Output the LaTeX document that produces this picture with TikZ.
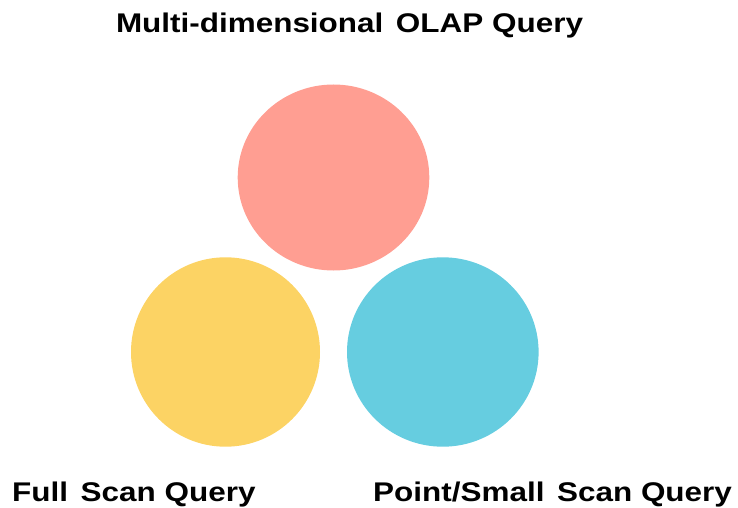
\documentclass[tikz,border=0pt]{standalone}
\usepackage{fontspec}
\setmainfont{Liberation Sans}
\usetikzlibrary{shapes.geometric}
\definecolor{salmon}{HTML}{FF9E92}
\definecolor{sun}{HTML}{FCD364}
\definecolor{sky}{HTML}{66CDE0}
\newcommand{\widegap}{\hspace{0.4em}}
\tikzset{
  blob/.style={ellipse, draw=none, inner sep=0pt},
  caption/.style={inner sep=0pt, xscale=1.165,
    font=\fontsize{27}{27}\selectfont\bfseries}
}
\begin{document}
\begin{tikzpicture}[x=1pt, y=-1pt]
  \useasboundingbox (0,0) rectangle (738,508);
  % three query kinds
  \node[blob, fill=salmon, minimum width=191.6pt, minimum height=186pt] (olap) at (333.5,177.5) {};
  \node[blob, fill=sun, minimum width=189pt, minimum height=189.4pt] (full) at (225.5,352) {};
  \node[blob, fill=sky, minimum width=191.6pt, minimum height=189.4pt] (point) at (442.8,352) {};
  % labels
  \node[caption, anchor=base] (olapl) at (349.5,32.5) {Multi-dimensional\widegap OLAP Query};
  \node[caption, anchor=base west] (fulll) at (12,501.7) {Full\widegap Scan Query};
  \node[caption, anchor=base west] (pointl) at (373,501.7) {Point/Small\widegap Scan Query};
\end{tikzpicture}
\end{document}
